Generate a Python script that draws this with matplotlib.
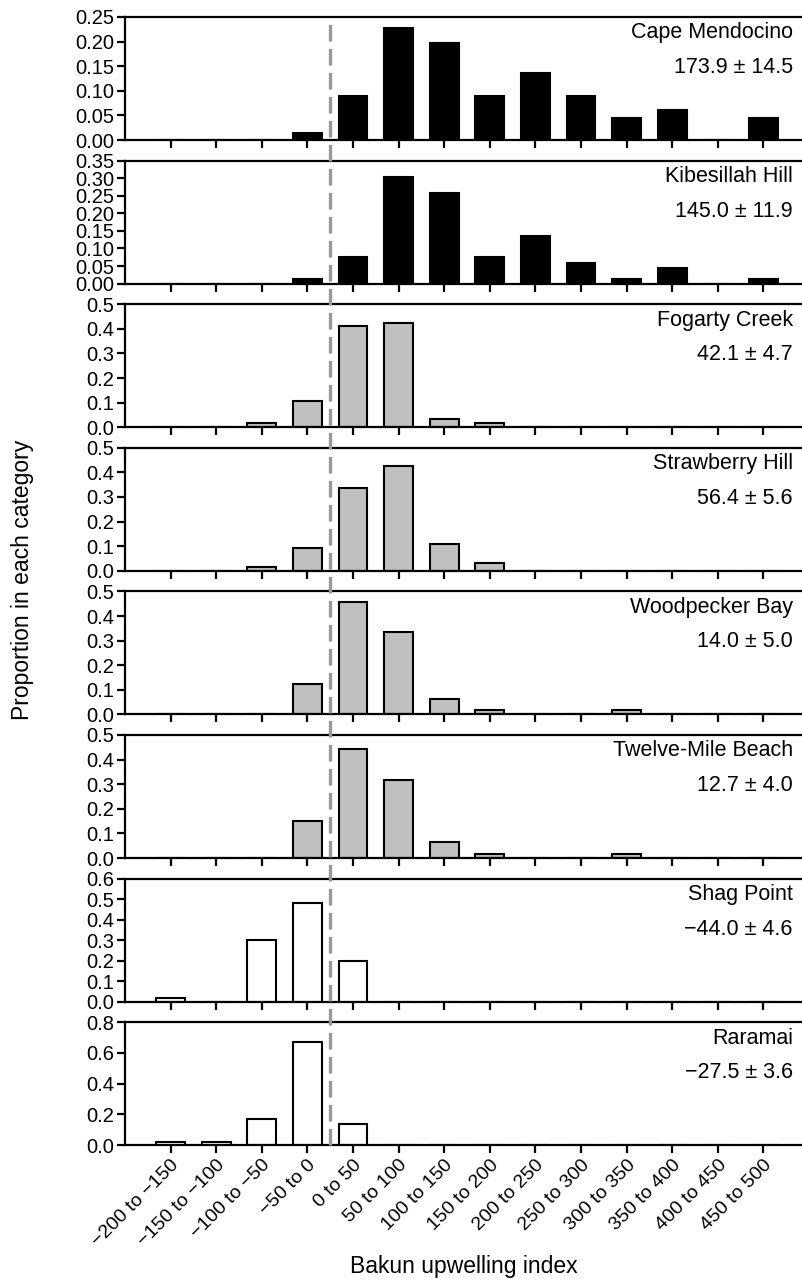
#!/usr/bin/env python3
"""Proportion of days in each Bakun upwelling index class, by site."""
import matplotlib
matplotlib.use("Agg")
import matplotlib.pyplot as plt
from matplotlib.lines import Line2D
from matplotlib.ticker import FormatStrFormatter, MultipleLocator
from matplotlib.transforms import blended_transform_factory

plt.rcParams["font.family"] = ["Liberation Sans", "DejaVu Sans"]

CATEGORIES = [
    "\u2212200 to \u2212150", "\u2212150 to \u2212100", "\u2212100 to \u221250",
    "\u221250 to 0", "0 to 50", "50 to 100", "100 to 150", "150 to 200",
    "200 to 250", "250 to 300", "300 to 350", "350 to 400", "400 to 450",
    "450 to 500",
]

SITES = [
    "Cape Mendocino", "Kibesillah Hill", "Fogarty Creek", "Strawberry Hill",
    "Woodpecker Bay", "Twelve-Mile Beach", "Shag Point", "Raramai",
]
MEANS = [
    "173.9 \u00b1 14.5", "145.0 \u00b1 11.9", "42.1 \u00b1 4.7", "56.4 \u00b1 5.6",
    "14.0 \u00b1 5.0", "12.7 \u00b1 4.0", "\u221244.0 \u00b1 4.6", "\u221227.5 \u00b1 3.6",
]

cape_mendocino = [0, 0, 0, 0.015, 0.09, 0.227, 0.197, 0.09, 0.136, 0.09, 0.045, 0.06, 0, 0.045]
kibesillah_hill = [0, 0, 0, 0.014, 0.076, 0.302, 0.258, 0.076, 0.136, 0.06, 0.014, 0.045, 0, 0.014]
fogarty_creek = [0, 0, 0.016, 0.107, 0.41, 0.425, 0.033, 0.016, 0, 0, 0, 0, 0, 0]
strawberry_hill = [0, 0, 0.016, 0.093, 0.336, 0.425, 0.11, 0.033, 0, 0, 0, 0, 0, 0]
woodpecker_bay = [0, 0, 0, 0.122, 0.455, 0.333, 0.062, 0.016, 0, 0, 0.016, 0, 0, 0]
twelve_mile_beach = [0, 0, 0, 0.152, 0.442, 0.318, 0.065, 0.016, 0, 0, 0.016, 0, 0, 0]
shag_point = [0.016, 0, 0.30, 0.483, 0.198, 0, 0, 0, 0, 0, 0, 0, 0, 0]
raramai = [0.018, 0.018, 0.169, 0.669, 0.136, 0, 0, 0, 0, 0, 0, 0, 0, 0]

VALUES = [cape_mendocino, kibesillah_hill, fogarty_creek, strawberry_hill,
          woodpecker_bay, twelve_mile_beach, shag_point, raramai]
YMAX = [0.25, 0.35, 0.5, 0.5, 0.5, 0.5, 0.6, 0.8]
YSTEP = [0.05, 0.05, 0.1, 0.1, 0.1, 0.1, 0.1, 0.2]
YFMT = ["%.2f", "%.2f", "%.1f", "%.1f", "%.1f", "%.1f", "%.1f", "%.1f"]
FILLS = ["black", "black", "#c0c0c0", "#c0c0c0", "#c0c0c0", "#c0c0c0", "white", "white"]

W, H = 803, 1280


def main() -> None:
    fig = plt.figure(figsize=(W / 100, H / 100), dpi=100)
    left, top0, step, height = 125, 17, 143.6, 123
    x = list(range(len(CATEGORIES)))
    axes = []
    for i, site in enumerate(SITES):
        top = top0 + step * i
        ax = fig.add_axes([left / W, 1 - (top + height) / H, 1 - left / W, height / H])
        ax.bar(x, VALUES[i], width=0.63, color=FILLS[i], edgecolor="black", linewidth=1.5)
        ax.set_xlim(-1.0, 13.87)
        ax.set_ylim(0, YMAX[i])
        ax.yaxis.set_major_locator(MultipleLocator(YSTEP[i]))
        ax.yaxis.set_major_formatter(FormatStrFormatter(YFMT[i]))
        ax.set_xticks(x)
        for side in ["top", "left", "bottom"]:
            ax.spines[side].set_linewidth(1.6)
        ax.spines["right"].set_visible(False)
        ax.tick_params(axis="both", direction="out", length=6, width=1.6, labelsize=14.5, pad=2)
        if i < len(SITES) - 1:
            ax.set_xticklabels([])
        else:
            ax.set_xticklabels(CATEGORIES, rotation=45, ha="right", rotation_mode="anchor", fontsize=14)
        ax.text(0.985, 0.87, site, transform=ax.transAxes, ha="right", va="center", fontsize=15.5)
        ax.text(0.985, 0.59, MEANS[i], transform=ax.transAxes, ha="right", va="center", fontsize=15.5)
        axes.append(ax)

    # dashed divider between negative and positive upwelling classes
    trans = blended_transform_factory(axes[0].transData, fig.transFigure)
    y_top = 1 - top0 / H
    y_bot = 1 - (top0 + step * (len(SITES) - 1) + height) / H
    fig.add_artist(Line2D([3.5, 3.5], [y_bot, y_top], transform=trans, color="#999999",
                          lw=2.4, ls=(0, (5, 2.2)), zorder=5))

    fig.text(23 / W, 1 - 580 / H, "Proportion in each category", rotation=90,
             ha="center", va="center", fontsize=16.5)
    fig.text((left + W) / 2 / W, 1 - 1266 / H, "Bakun upwelling index",
             ha="center", va="center", fontsize=16.5)
    fig.savefig("out.png", dpi=100, facecolor="white")
    plt.close(fig)


if __name__ == "__main__":
    main()
